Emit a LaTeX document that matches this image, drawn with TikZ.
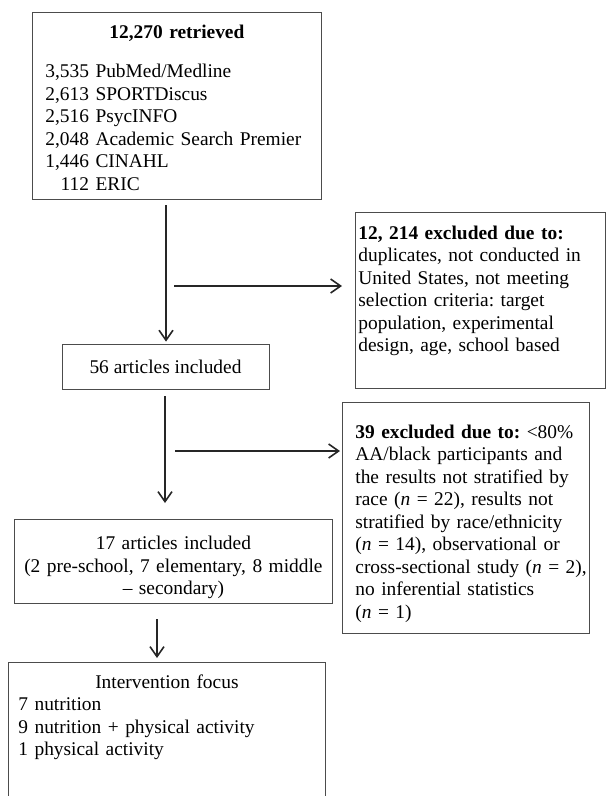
\documentclass[tikz,border=0pt]{standalone}
\usepackage{fontspec}
\setmainfont{Liberation Serif}
\usetikzlibrary{arrows.meta}
\tikzset{
  box/.style={draw=black!70, line width=0.8pt, inner sep=0pt, font=\fontsize{19.4}{22.5}\selectfont\frenchspacing},
  topbox/.style={box, anchor=north west, align=left},
  arr/.style={draw=black!85, line width=1.6pt, -{Straight Barb[length=10pt,width=14pt]}}
}
\begin{document}
\begin{tikzpicture}[x=1pt,y=-1pt]
\useasboundingbox (0,0) rectangle (607,796);

\node[topbox, text width=263pt, inner xsep=13pt, text height=26.5pt, text depth=160.5pt] (ret) at (32,12)
  {\makebox[263pt]{\textbf{12,270 retrieved}}\\[16.5pt]
   \begin{tabular}[t]{@{}r@{~}l@{}}
   3,535 & PubMed/Medline\\
   2,613 & SPORTDiscus\\
   2,516 & PsycINFO\\
   2,048 & Academic Search Premier\\
   1,446 & CINAHL\\
   112 & ERIC
   \end{tabular}};
\node[topbox, text width=244pt, inner xsep=3pt, text height=27pt, text depth=149pt] (excl1) at (355,212)
  {\begin{tabular}[t]{@{}l@{}}
   \textbf{12, 214 excluded due to:}\\
   duplicates, not conducted in\\
   United States, not meeting\\
   selection criteria: target\\
   population, experimental\\
   design, age, school based
   \end{tabular}};
\node[box, minimum width=207pt, minimum height=45pt] (inc56) at (165.5,366.5) {56 articles included};
\node[topbox, text width=221pt, inner xsep=13pt, text height=36pt, text depth=195pt] (excl2) at (342,402)
  {\begin{tabular}[t]{@{}l@{}}
   \textbf{39 excluded due to:} \textless80\%\\
   AA/black participants and\\
   the results not stratified by\\
   race (\textit{n} = 22), results not\\
   stratified by race/ethnicity\\
   (\textit{n} = 14), observational or\\
   cross-sectional study (\textit{n} = 2),\\
   no inferential statistics\\
   (\textit{n} = 1)
   \end{tabular}};
\node[box, anchor=north west, align=center, text width=318pt, text height=30.5pt, text depth=53.5pt] (inc17) at (14,519)
  {17 articles included\\
   (2 pre-school, 7 elementary, 8 middle\\
   -- secondary)};
\node[topbox, text width=297pt, inner xsep=10pt, text height=26pt, text depth=150pt] (focus) at (8,662)
  {\makebox[297pt]{Intervention focus}\\
   7 nutrition\\
   9 nutrition + physical activity\\
   1 physical activity};

\coordinate (a1) at (166,205);
\coordinate (h1) at (174,286);
\coordinate (a2) at (165,396);
\coordinate (h2) at (175,451);
\coordinate (a3) at (157,619);

\path[arr, shorten >=2pt] (a1) -- (a1 |- inc56.north);
\path[arr, shorten >=13pt] (h1) -- (h1 -| excl1.west);
\path[arr, shorten >=16pt] (a2) -- (a2 |- inc17.north);
\path[arr, shorten >=2pt] (h2) -- (h2 -| excl2.west);
\path[arr, shorten >=4pt] (a3) -- (a3 |- focus.north);
\end{tikzpicture}
\end{document}
